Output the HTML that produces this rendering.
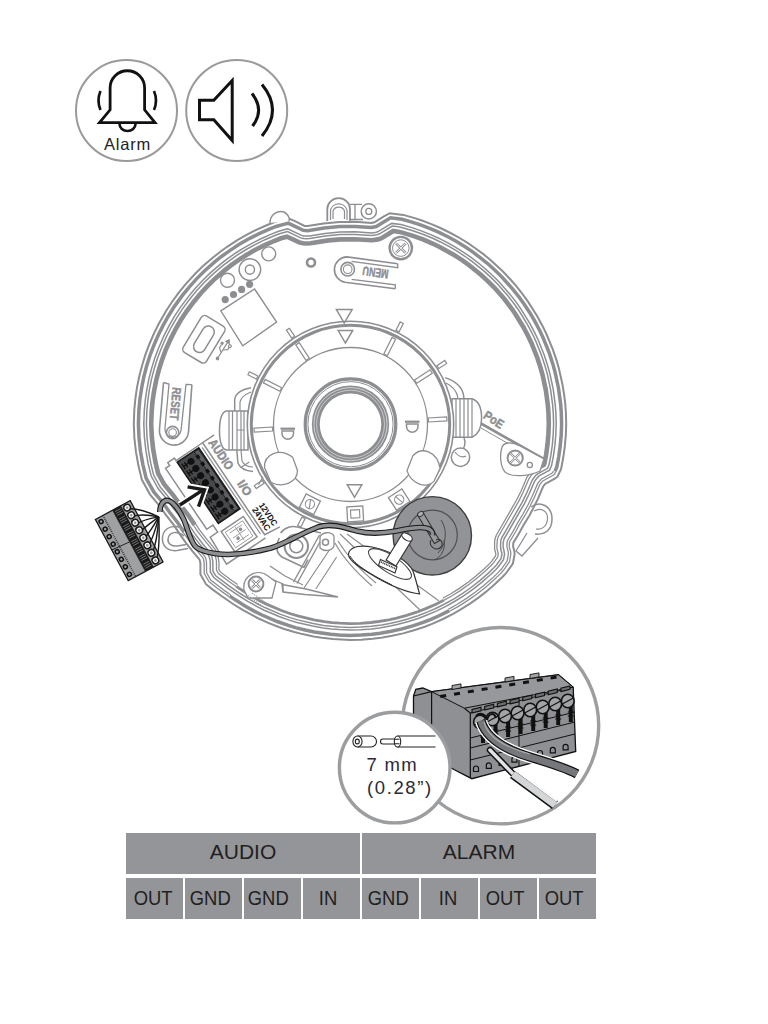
<!DOCTYPE html>
<html><head><meta charset="utf-8">
<style>
html,body{margin:0;padding:0;background:#fff;}
body{width:768px;height:1024px;overflow:hidden;position:relative;font-family:"Liberation Sans",sans-serif;}
svg{position:absolute;left:0;top:0;}
.c{position:absolute;background:#939598;color:#231f20;text-align:center;font-family:"Liberation Sans",sans-serif;}
.h{top:833px;height:41px;line-height:38px;font-size:21px;}
.r{top:878px;height:41px;line-height:40px;font-size:20px;}
.r span{display:inline-block;transform:scaleX(0.92);}
</style></head><body>
<svg width="768" height="1024" viewBox="0 0 768 1024">
<g id="icons">
  <circle cx="126.5" cy="110.5" r="50.5" fill="none" stroke="#9a9a9a" stroke-width="2"/>
  <circle cx="236.7" cy="110.5" r="50.5" fill="none" stroke="#9a9a9a" stroke-width="2"/>
  <path d="M110.1,109.8 V88 A17.25,17.25 0 0 1 144.6,88 V109.8 L155,122.7 H99.5 Z" fill="none" stroke="#111" stroke-width="2.8" stroke-linejoin="miter"/>
  <path d="M119.5,124 A8,7 0 0 0 135.5,124" fill="none" stroke="#111" stroke-width="2.6"/>
  <path d="M100.5,91 Q96.5,100.5 100.5,110" fill="none" stroke="#111" stroke-width="2.6"/>
  <path d="M154,91 Q158,100.5 154,110" fill="none" stroke="#111" stroke-width="2.6"/>
  <text x="127.5" y="150" font-size="16.5" letter-spacing="0.8" text-anchor="middle" fill="#222" font-family="Liberation Sans">Alarm</text>
  <path d="M199.5,100.2 H213.8 L232.2,80.5 V140.5 L213.8,119.7 H199.5 Z" fill="none" stroke="#111" stroke-width="3" stroke-linejoin="miter"/>
  <path d="M252,93.5 Q265,110 252.5,126" fill="none" stroke="#111" stroke-width="3"/>
  <path d="M262,84.5 Q283,110 262,136" fill="none" stroke="#111" stroke-width="3"/>
</g>
<path d="M133.8,424 L134.4,438.1 L136,452.2 L138.5,466.1 L141.9,479.8 L150.1,494.6 L159.3,505.6 L165.7,514.7 L174.1,525.4 L179.9,534.4 L186.1,543.1 L192.6,551.4 L199.6,559.6 L200.4,563.2 L200.4,574.3 L206,584.2 L212.4,589.4 L221.5,596 L233.1,604 L242.6,609.9 L257.5,618 L267.7,622.7 L275.5,625.8 L283.5,628.7 L294.3,632 L302.5,634.1 L313.5,636.5 L321.9,637.8 L333.1,639.1 L350,640 L361.3,639.7 L372.6,638.8 L381,637.8 L392.1,635.8 L403.2,633.4 L414,630.3 L424.8,626.7 L432.7,623.6 L443,619 L453.1,613.8 L460.4,609.6 L470,603.6 L479.2,597.1 L485.9,591.9 L494.5,584.5 L502.7,576.7 L506.5,572.6 L512.9,563.5 L514.6,554.5 L514.4,551.1 L513.1,546.6 L513.3,542.9 L518.8,533.7 L523.9,524.4 L529.4,515.4 L533.2,508.4 L537.9,498.9 L543.1,486.5 L545.1,484 L555.2,478.4 L557.6,476.4 L561.1,468.9 L563.2,457.8 L564.8,446.6 L565.8,435.3 L566.2,424 L565.9,412.7 L565.3,404.2 L564.3,395.8 L562.5,384.6 L558.8,368.1 L556.4,359.9 L552.7,349.2 L546.2,333.5 L542.5,325.9 L537.1,316 L528,301.6 L521.4,292.5 L516.1,285.9 L510.5,279.5 L502.7,271.3 L490.2,259.8 L483.7,254.4 L474.6,247.7 L467.6,242.9 L458,237 L450.5,233 L440.4,228 L432.6,224.6 L422,220.5 L414,217.9 L403.2,214.9 L389.7,213.2 L383.5,216.6 L374.5,222.3 L371.3,222.9 L355.3,221.8 L339.4,222 L323.6,223.5 L307.7,226.1 L304.6,225.9 L295,221.2 L288.8,218.5 L280.8,220.3 L275.3,221.8 L264.9,226 L254.6,230.7 L244.7,235.9 L237.3,240.2 L227.9,246.3 L221,251.2 L212.1,258.2 L203.6,265.6 L195.4,273.5 L185.9,283.8 L178.8,292.6 L172.1,301.7 L165.9,311.2 L158.9,323.5 L153.9,333.6 L149.4,344 L145.4,354.6 L142.1,365.4 L139.3,376.3 L137,387.4 L135.4,398.6 L134.3,409.9Z" fill="none" stroke="#8d8e91" stroke-width="2.0"/>
<path d="M555,471.3 L556.7,467.4 L558.7,457 L560.2,446.1 L561.2,435 L561.6,424 L561.3,412.9 L560.7,404.7 L558.5,388.2 L555,372 L552.8,363.9 L549.4,353.4 L543.2,338 L539.7,330.5 L534.5,320.7 L530.3,313.5 L524.2,304.3 L519.4,297.5 L512.5,288.8 L501.4,276.5 L495.5,270.7 L487.3,263.3 L480.8,258.1 L472,251.4 L465.1,246.8 L455.7,241 L448.4,237 L438.5,232.2 L430.9,228.8 L420.5,224.9 L412.7,222.3 L402.2,219.3 L390.5,217.8 L376.3,226.5 L371.4,227.5 L355.2,226.4 L339.7,226.6 L324.2,228 L307.6,230.7 L303.2,230.3 L288.3,223.2 L284.6,224.1 L276.9,226.2 L269.3,229.1 L259.2,233.6 L249.3,238.6 L239.7,244.1 L230.5,250.1 L221.5,256.5 L215,261.7 L204.7,270.8 L196.8,278.6 L189.4,286.8 L182.4,295.4 L174.3,306.6 L168.4,316 L163,325.6 L158.1,335.5 L153.7,345.7 L149.8,356 L146.5,366.6 L143.7,377.3 L141.6,388.2 L139.9,399.1 L138.9,410.2 L138.4,424 L139,437.7 L140.5,451.5 L143,465.1 L146.1,478 L153.8,491.9 L162.9,502.7 L169.4,512 L177.8,522.7 L183.7,531.8 L183.8,531.9 M229.6,596 L235.7,600.1 L245,606 L254.6,611.4 L262,615 L277.2,621.5 L287.6,625.2 L295.5,627.6 L306.2,630.3 L314.3,631.9 L330.7,634.3 L339,635 L350,635.4 L361.1,635.1 L372.1,634.2 L380.3,633.2 L391.2,631.3 L402,628.9 L412.7,625.9 L423.2,622.3 L430.9,619.3 L438.5,616 L448.4,611.1 L449.2,610.6" fill="none" stroke="#8d8e91" stroke-width="3.5"/>
<path d="M183.1,532.4 L189.1,540.7 L195.6,549 L202.8,557.6 L203.4,559 L204.2,563 L204.2,573.4 L208.9,581.6 L216.9,588 L223.7,592.9 L229.1,596.6 M449.6,611.3 L458.5,606.4 L467.9,600.4 L477,594 L485.7,587.2 L494,579.8 L500,574.1 L503.5,570.3 L509.4,562 L510.8,554.3 L510.7,551.8 L509.3,547.1 L509.4,542.9 L509.8,541.4 L515.6,531.8 L520.6,522.5 L524.8,515.7 L529.8,506.7 L534.4,497.3 L539.8,484.6 L542.8,480.9 L553.2,475.2 L554.7,474 L555.7,471.5" fill="none" stroke="#8d8e91" stroke-width="1.3"/>
<path d="M185.2,531 L189.5,537.2 L197.4,547.5 L204.8,556.3 L205.7,558.3 L206.5,562.1 L206.6,572.7 L210.7,580.1 L225,590.9 L230.5,594.7 M448.5,609.2 L450.1,608.4 L457.3,604.3 L466.5,598.4 L475.5,592.1 L484.1,585.3 L492.4,578.1 L498.3,572.4 L501.6,568.8 L507.1,561.1 L508.4,554.2 L508.3,552.2 L506.9,546.7 L507,542.6 L507.6,540.4 L513.5,530.6 L518.5,521.4 L522.7,514.5 L527.7,505.5 L532.2,496.3 L537.7,483.4 L541.4,479 L551.8,473.2 L552.7,472.5 L553.4,471" fill="none" stroke="#8d8e91" stroke-width="1.3"/>
<path d="M143.8,423.9 L144.4,437.3 L145.9,450.7 L148.2,464 L151.2,476 L158.3,488.8 L167.4,499.7 L173.7,508.8 L182.3,519.6 L192.6,535 L200.4,545.1 L208,554.2 L209.4,557.4 L210.3,561.6 L210.3,571.7 L213.7,577.6 L227.2,587.8 L238.7,595.6 L247.7,601.3 L257.1,606.6 L264.3,610.2 L279.1,616.5 L289.2,620.1 L297,622.4 L312.7,626.1 L323.3,627.9 L331.3,628.9 L339.3,629.6 L350,630 L360.8,629.7 L371.5,628.9 L379.5,627.9 L390.2,626 L398.1,624.3 L408.5,621.5 L418.8,618.2 L428.8,614.3 L436.2,611.1 L445.9,606.3 L455.3,601 L464.4,595.3 L473.2,589.1 L481.7,582.4 L489.8,575.3 L495.7,569.7 L498.6,566.5 L503.5,559.6 L504.6,554 L503.1,546.7 L503.2,542.3 L504.1,538.9 L524.3,503.8 L528.8,494.8 L534.4,481.6 L537.4,477.6 L539.1,475.9 L549.6,470.1 L551.5,465.7 L553.4,456.1 L554.9,445.4 L555.8,434.7 L556.2,424 L555.9,413.2 L555.3,405.2 L553.2,389.1 L549.8,373.3 L547.6,365.5 L544.3,355.2 L538.3,340.2 L534.8,332.9 L529.8,323.3 L521.3,309.6 L516.7,302.9 L510.1,294.4 L499.4,282.2 L493.7,276.5 L485.8,269.2 L479.6,264 L471.1,257.4 L464.4,252.8 L455.3,247.1 L448.3,243.1 L438.7,238.2 L431.3,234.9 L421.3,230.9 L411.1,227.4 L401,224.6 L391.7,223.4 L378.5,231.4 L376.3,232.2 L371.6,232.9 L355,231.8 L339.9,232 L324.9,233.4 L309.5,236 L307,236.1 L303.7,235.9 L301.5,235.4 L287.7,228.9 L285.9,229.3 L278.6,231.3 L271.3,234.1 L261.5,238.5 L251.9,243.3 L242.6,248.7 L235.7,253 L226.9,259.2 L220.5,264.2 L210.3,272.9 L202.6,280.4 L195.3,288.3 L188.4,296.6 L180.3,307.4 L174.4,316.4 L169,325.8 L164.1,335.4 L158.7,347.7 L154.9,357.8 L151.7,368.1 L149,378.5 L146.9,389.1 L145.3,399.8 L144.3,410.5Z" fill="none" stroke="#8d8e91" stroke-width="1.5"/>
<path d="M146.4,423.9 L147,437.1 L148.5,450.4 L150.8,463.4 L153.6,475.1 L160.4,487.3 L169.5,498.1 L175.8,507.2 L184.4,518.1 L194.7,533.4 L202.4,543.5 L210.2,552.8 L211.9,556.7 L212.8,561.2 L212.9,571 L215.7,575.8 L228.7,585.7 L240.1,593.5 L249.1,599.1 L258.3,604.3 L265.4,607.8 L280,614.1 L290,617.6 L297.7,619.9 L313.2,623.6 L323.6,625.4 L331.6,626.3 L339.5,627 L350.1,627.4 L360.6,627.1 L371.2,626.3 L381.8,624.9 L389.7,623.5 L397.5,621.8 L407.8,619 L417.9,615.7 L427.8,611.9 L435.1,608.7 L444.7,604 L454,598.8 L463,593.1 L471.7,587 L480.1,580.4 L488.1,573.4 L493.8,567.8 L496.5,564.9 L501.1,558.5 L502,553.8 L500.9,549.8 L500.5,546 L500.8,540.6 L501.7,537.9 L522,502.6 L526.4,493.7 L532.1,480.3 L535.4,475.8 L537.6,473.9 L547.6,468.3 L549,464.9 L550.8,455.7 L552.3,445.2 L553.2,434.5 L553.6,424 L553.3,413.4 L552.7,405.4 L550.6,389.6 L547.3,373.9 L545.1,366.2 L541.8,356.1 L535.9,341.3 L532.5,334 L527.5,324.6 L519.2,311 L514.6,304.5 L508.1,296 L497.5,284 L491.9,278.4 L484.1,271.1 L471.7,261.1 L465.2,256.5 L456.2,250.7 L449.4,246.7 L439.9,241.7 L432.7,238.3 L422.9,234.3 L412.8,230.7 L402.6,227.7 L398.5,226.8 L392.2,226.1 L379.6,233.8 L376.9,234.7 L371.7,235.5 L355,234.4 L340.1,234.6 L325.2,236 L309.9,238.6 L306.8,238.7 L303.4,238.5 L300.7,237.9 L287.5,231.6 L279.5,233.8 L274.8,235.5 L265,239.7 L255.5,244.4 L246.2,249.5 L237.2,255.2 L228.5,261.3 L222.2,266.2 L212.1,274.9 L204.5,282.3 L197.2,290 L190.4,298.2 L182.5,308.9 L176.7,317.8 L171.3,327 L166.5,336.5 L161.1,348.7 L157.4,358.6 L154.2,368.8 L151.5,379.1 L149.4,389.6 L147.9,400.1 L146.9,410.7Z" fill="none" stroke="#8d8e91" stroke-width="1.5"/>
<path d="M538.8,467.6 L543.8,464.9 L544.4,463.5 L546.1,454.9 L547.5,444.6 L548.4,434.2 L548.8,424 L548.5,413.6 L547.9,405.8 L545.9,390.4 L542.6,375.1 L540.5,367.6 L537.3,357.7 L531.5,343.2 L528.2,336.2 L523.3,327 L515.2,313.7 L510.7,307.3 L504.4,299 L494.1,287.3 L488.6,281.8 L480.9,274.8 L468.8,265 L462.5,260.4 L453.7,254.8 L440.1,247.2 L433.1,243.8 L423.6,239.7 L413.8,236.1 L403.9,233.1 L399.5,231.9 L393.3,231 L381.6,238.2 L378,239.4 L371.9,240.3 L354.8,239.2 L340.3,239.4 L328.3,240.4 L310.6,243.3 L306.5,243.5 L302.9,243.2 L299.2,242.4 L287,236.7 L281,238.3 L274.1,241 L264.7,245.2 L255.4,249.8 L246.4,255 L239.8,259.2 L231.3,265.2 L225.2,269.9 L215.3,278.4 L207.9,285.6 L200.8,293.2 L194.2,301.2 L186.4,311.6 L180.7,320.3 L175.5,329.3 L170.8,338.6 L165.5,350.4 L161.9,360.2 L158.8,370.1 L156.2,380.2 L154.2,390.4 L152.6,400.7 L151.7,411 L151.2,423.9 L151.8,436.8 L153.2,449.7 L155.5,462.4 L158.1,473.4 L164.3,484.5 L173.3,495.3 L179.7,504.4 L188.3,515.3 L194.7,524.9" fill="none" stroke="#8d8e91" stroke-width="4.6"/>
<path d="M236.3,586.3 L242.2,590.3 L251,595.8 L260.1,600.9 L267,604.4 L281.4,610.5 L291.2,614 L298.7,616.2 L313.9,619.8 L324.2,621.6 L331.9,622.6 L339.7,623.2 L350.1,623.6 L360.4,623.3 L370.9,622.5 L378.6,621.5 L388.9,619.8 L396.6,618.1 L406.7,615.4 L416.6,612.2 L426.4,608.4 L435.9,604.2 L443.7,600.2" fill="none" stroke="#8d8e91" stroke-width="2.8"/>
<path d="M193.7,525.5 L197.5,531.3 L205.2,541.2 L213.2,550.9 L214.9,554.1 L216.4,560.6 L216.5,570.1 L218.4,573.5 L230.7,582.7 L236.2,586.5 M443.8,600.4 L452.1,595.7 L461,590.1 L469.5,584.1 L477.8,577.6 L485.6,570.7 L491.3,565.3 L493.7,562.6 L497.7,557.1 L498.3,553.8 L497,548.8 L496.9,545.8 L497.3,539.9 L498.4,536.4 L518.9,500.9 L523.1,492.2 L529,478.5 L532.2,474.2 L534,472.1 L536.9,470 L540.6,468" fill="none" stroke="#8d8e91" stroke-width="1.3"/>
<path d="M195.7,524.2 L199.5,529.9 L207.1,539.7 L215.3,549.6 L217.1,553.2 L218,556.2 L219,562.5 L218.9,569.5 L220.3,571.9 L232.1,580.7 L237.6,584.5 M442.7,598.3 L450.9,593.7 L459.7,588.1 L468.1,582.2 L476.2,575.8 L484,569 L489.6,563.6 L491.8,561.1 L495.4,556.1 L495.9,554 L494.6,549.1 L494.6,542.6 L494.9,539.5 L496.2,535.5 L516.7,499.8 L521,491.2 L526.9,477.3 L530.3,472.7 L532.4,470.4 L535.7,467.9 L537.1,467.2" fill="none" stroke="#8d8e91" stroke-width="1.3"/>
<g fill="none" stroke="#8d8e91">
<path d="M251,387.7 C243,389 235,393 234.7,400 L234.7,411 M236.8,450 L237.9,463 C240,468 246,471 253,471.5" stroke-width="1.5"/>
<path d="M251,392 C246,394 241,397 240,402 L240,411 M241,450 L242,461 C244,465 248,467 253,467" stroke-width="1.2"/>
<path d="M248,411 H226 C221,413 219.5,420 219.5,430.5 C219.5,441 221,448 226,450 H248 Z" stroke-width="1.5" fill="#fff"/>
<path d="M229,411 V450 M232.5,411 V450 M237,411 V450 M241,411 V450 M244,411 V450 M237,430 H244" stroke-width="1.2"/>
<path d="M445.2,377.6 C455,381 462,386 463.5,395 L464,399 M464,437.3 L465,442 C465,448 462,452 458,452" stroke-width="1.5"/>
<path d="M446,383 C452,386 456,390 457.5,396 L458,399" stroke-width="1.2"/>
<path d="M452,398.7 H472 C479,401 481.6,408 481.6,418 C481.6,428 479,434 472,437.3 H452 Z" stroke-width="1.5" fill="#fff"/>
<path d="M456,398.7 V437.3 M460,398.7 V437.3 M464,398.7 V437.3 M468,398.7 V437.3 M472,399 V437" stroke-width="1.2"/>
<circle cx="460.5" cy="457.3" r="9.2" stroke-width="1.5" fill="#fff"/><path d="M455,452 C458,456 462,458 466,456" stroke-width="1.2"/>
<circle cx="350.5" cy="424.5" r="103.2" stroke-width="1.6" fill="#fff"/>
<circle cx="350.5" cy="424.5" r="99.2" stroke-width="3"/>
<circle cx="350.5" cy="424.5" r="77" stroke-width="1.3"/>
<path d="M281.7,387.7 L265.2,379.4 L263.4,382.9 L279.9,391.2Z" stroke-width="1.2" fill="#fff"/>
<path d="M309.3,358.2 L299.2,342.7 L295.8,344.9 L306,360.4Z" stroke-width="1.2" fill="#fff"/>
<path d="M387.3,355.7 L395.6,339.2 L392.1,337.4 L383.8,353.9Z" stroke-width="1.2" fill="#fff"/>
<path d="M416.8,383.3 L432.3,373.2 L430.1,369.8 L414.6,380Z" stroke-width="1.2" fill="#fff"/>
<path d="M428.5,422 L447,420.9 L446.7,416.9 L428.3,418Z" stroke-width="1.2" fill="#fff"/>
<path d="M272.5,427 L254,428.1 L254.3,432.1 L272.7,431Z" stroke-width="1.2" fill="#fff"/>
<path d="M257.9,376 L249.4,371.7 L247.9,374.8 L256.4,379.1Z" stroke-width="1.2" fill="#fff"/>
<path d="M294.6,336.2 L289.4,328.3 L286.4,330.2 L291.7,338.1Z" stroke-width="1.2" fill="#fff"/>
<path d="M399,331.9 L403.3,323.4 L400.2,321.9 L395.9,330.4Z" stroke-width="1.2" fill="#fff"/>
<path d="M438.8,368.6 L446.7,363.4 L444.8,360.4 L436.9,365.7Z" stroke-width="1.2" fill="#fff"/>
<path d="M262.2,480.4 L254.3,485.6 L256.2,488.6 L264.1,483.3Z" stroke-width="1.2" fill="#fff"/>
<path d="M302,517.1 L297.7,525.6 L300.8,527.1 L305.1,518.6Z" stroke-width="1.2" fill="#fff"/>
<path d="M336.4,309.6 L352.1,309.6 L344.2,323.1 Z" stroke-width="1.5"/>
<path d="M338.2,330.5 L352.7,330.5 L345.4,343 Z" stroke-width="1.5"/>
<path d="M347.3,484.8 L361.8,484.8 L354.5,497.3 Z" stroke-width="1.5"/>
<path d="M280.5,428.7 H295" stroke-width="2.2"/><path d="M282,431 V433.5 A5.75,5.75 0 0 0 293.5,433.5 V431 Z" stroke-width="1.5"/>
<path d="M405,421.7 H419.5" stroke-width="2.2"/><path d="M406.5,424 V426.5 A5.75,5.75 0 0 0 418,426.5 V424 Z" stroke-width="1.5"/>
<path d="M266,462 C270,449 287,448 296,462 L296,476 C292,487 276,488 267,478 Z" stroke-width="1.3" fill="#fff" transform="rotate(-20 281 469)"/>
<path d="M411,462 C415,449 432,448 441,462 L441,476 C437,487 421,488 412,478 Z" stroke-width="1.3" fill="#fff" transform="rotate(25 426 463)"/>
<g transform="translate(399.2 499.6) rotate(-33)"><rect x="-8" y="-7.5" width="16" height="15" stroke-width="1.3" fill="#fff"/><circle cx="0" cy="0" r="4.6" stroke-width="1.1"/><path d="M-1.5,-4.5 L1.5,4.5" stroke-width="1.1"/></g>
<g transform="translate(355.2 513.9) rotate(-3)"><rect x="-8" y="-7.5" width="16" height="15" stroke-width="1.3" fill="#fff"/><rect x="-4.5" y="-4" width="9" height="8" stroke-width="1.1"/></g>
<g transform="translate(309.9 504.2) rotate(27)"><rect x="-8" y="-7.5" width="16" height="15" stroke-width="1.3" fill="#fff"/><circle cx="0" cy="0" r="4.6" stroke-width="1.1"/><path d="M-1.5,-4.5 L1.5,4.5" stroke-width="1.1"/></g>
<circle cx="350.5" cy="424.2" r="45.3" stroke-width="3.2"/>
<circle cx="350.5" cy="424.2" r="42.6" stroke-width="1"/>
<circle cx="350.5" cy="424.2" r="34.7" stroke-width="7.9"/>
<circle cx="350.5" cy="424.2" r="36.6" stroke-width="0.6" stroke="#fff"/>
<circle cx="350.5" cy="424.2" r="34" stroke-width="0.5" stroke="#fff"/>
</g>
<g fill="none" stroke="#8d8e91">
<path d="M327.3,221 V209 A11,10.5 0 0 1 350,209 V221" stroke-width="1.8" fill="#fff"/>
<path d="M330.5,220 V210 A8.5,8 0 0 1 347,210 V220 M333,219 V211 A6,5.5 0 0 1 344.5,211 V219" stroke-width="1.2"/>
<path d="M350,204.4 H362 M350,219.5 H363 M355,204.4 V219.5" stroke-width="1.3"/>
<circle cx="368.8" cy="211.4" r="7.6" stroke-width="1.5" fill="#fff"/><circle cx="368.8" cy="211.4" r="3" stroke-width="1.3"/>
<path d="M270,223 C270,214 278,210 284,212 C288,214 290,218 289,221" stroke-width="1.4" fill="#fff"/>
<circle cx="400.8" cy="248.1" r="11.2" stroke-width="2.4" fill="#fff"/><circle cx="400.8" cy="248.1" r="8.3" stroke-width="1"/>
<path d="M396,243.3 L405.6,252.9 M405.6,243.3 L396,252.9" stroke-width="2.6"/><path d="M396,243.3 L405.6,252.9 M405.6,243.3 L396,252.9" stroke-width="1" stroke="#fff"/>
<circle cx="311" cy="262.5" r="4" stroke-width="2.6"/>
<path d="M397.7,263.7 L346.9,256.9 A12.8,12.8 0 0 0 345,282.3 L395.3,288.8" stroke-width="1.6"/>
<path d="M397.7,263.7 V267.7 L351.6,261.4 M395.3,288.8 V284.8 L351.6,279.4" stroke-width="1.4"/>
<circle cx="347.7" cy="269.2" r="6.8" stroke-width="1.6"/><circle cx="347.7" cy="269.2" r="4.3" stroke-width="1.1"/>
<text x="0" y="0" font-size="12.5" font-weight="bold" textLength="26" lengthAdjust="spacingAndGlyphs" fill="#8d8e91" stroke="#8d8e91" stroke-width="0.45" transform="translate(389,270) rotate(188)">MENU</text>
<circle cx="227.5" cy="280.3" r="7" stroke-width="1.4"/>
<circle cx="249.9" cy="269.6" r="10.8" stroke-width="1.4"/><circle cx="249.9" cy="269.6" r="4.6" stroke-width="1.4"/>
<circle cx="268.7" cy="253.9" r="7" stroke-width="1.4"/>
<circle cx="225.2" cy="299.6" r="3.6" fill="#8d8e91" stroke="none"/>
<circle cx="233.5" cy="294.5" r="3.6" fill="#8d8e91" stroke="none"/>
<circle cx="241.6" cy="289.4" r="3.6" fill="#8d8e91" stroke="none"/>
<circle cx="249.6" cy="284.3" r="3.6" fill="#8d8e91" stroke="none"/>
<path d="M220.8,310.8 L254.6,289 L276.6,322 L242.8,345.8 Z" stroke-width="1.4"/>
<g transform="translate(203.9,339.3) rotate(31.2)"><rect x="-13.6" y="-21.3" width="27.2" height="42.6" rx="4" stroke-width="1.5"/><rect x="-6" y="-14.5" width="12" height="29" rx="6" stroke-width="1.5"/></g>
<g transform="translate(217.5,358.5) rotate(-58)" stroke-width="1.2"><circle cx="0" cy="0" r="1.8" fill="#8d8e91" stroke="none"/><path d="M1.5,0 H19"/><path d="M19,-2 L22,0 L19,2 Z" fill="#8d8e91"/><path d="M7,0 L10,-4 H14"/><rect x="14" y="-5.5" width="2.8" height="2.8" fill="#8d8e91" stroke="none"/><path d="M10,0 L13,4 H16"/><circle cx="17" cy="4" r="1.4"/></g>
<path d="M163.5,382.5 L159.5,429 A14.5,14.5 0 0 0 188.5,432 L191.9,384.7" stroke-width="1.6"/>
<path d="M163.5,382.5 L169,384 L165,428 A8,8 0 0 0 181,430.5 L186,384.5 L191.9,384.7" stroke-width="1.3"/>
<circle cx="172.6" cy="432.6" r="6.2" stroke-width="1.6"/><circle cx="172.6" cy="432.6" r="3.8" stroke-width="1.1"/>
<text x="0" y="0" font-size="12.5" font-weight="bold" textLength="33" lengthAdjust="spacingAndGlyphs" fill="#8d8e91" stroke="#8d8e91" stroke-width="0.45" transform="translate(172.6,387) rotate(95)">RESET</text>
<path d="M481,423.5 L545.5,460" stroke-width="2.6"/><path d="M481,428 L543,463.5" stroke-width="1"/>
<path d="M501.5,449 C503,441 512,442 520,446 L544,459 L540,471 C530,476 512,478 505,472 C500,466 500,455 501.5,449 Z" stroke-width="1.3" fill="#fff"/>
<circle cx="515.2" cy="458" r="7.6" stroke-width="2" fill="#fff"/><path d="M510.7,453.5 L519.7,462.5 M519.7,453.5 L510.7,462.5" stroke-width="2.4"/><path d="M510.7,453.5 L519.7,462.5 M519.7,453.5 L510.7,462.5" stroke-width="0.9" stroke="#fff"/>
<circle cx="529.8" cy="465" r="2.6" stroke-width="1.3"/>
<text x="0" y="0" font-size="12.5" font-weight="bold" textLength="21.5" lengthAdjust="spacingAndGlyphs" fill="#8d8e91" stroke="#8d8e91" stroke-width="0.45" transform="translate(482.5,417.5) rotate(33)">PoE</text>
<path d="M531,507 C540,500 552,506 552,519 C552,530 545,535 535,534" stroke-width="1.5"/><path d="M534,511 C541,507 548,511 547.5,519 C547,527 541,530 536,529" stroke-width="1.2"/>
<path d="M527,533 L516,551 L522,556 L538,538" stroke-width="1.3"/>
<path d="M186,531 C177,523 164,526 162.5,537 C161.5,546 168,551.5 177,550.5 L188,548.5 M184,536 C177,530 169,532 168,539 C167.5,544 172,546.5 177.5,546 L186,544.5" stroke-width="1.5"/>
</g>
<g transform="translate(177.2,462.3) rotate(56)" fill="none" stroke="#8d8e91">
<path d="M-2,-46 V-32 H109 L111,-49 M-2,-32 V0 H-5 V8 H-1.5 V13 H72 V5.5 H80.5 V14.5 L112,16 V-31" stroke-width="1.5"/>
<path d="M1.5,-29 H106" stroke-width="1.2"/>
<path d="M40,-60 L40,-50 M60,-63 L64,-55" stroke-width="1.2"/>
<rect x="0" y="-26" width="73.6" height="26" fill="#48494b" stroke="#1a1a1a" stroke-width="1.6"/>
<rect x="1" y="-25" width="71.6" height="5" fill="#5e5f61" stroke="#1a1a1a" stroke-width="0.8"/>
<circle cx="7" cy="-12" r="3.5" fill="#111" stroke="none"/>
<path d="M7,-10 V-3 M4,-6 H10 M3.5,-3 H10.5" stroke="#111" stroke-width="1.4"/>
<rect x="5" y="-22" width="4" height="3.5" fill="#111" stroke="none"/>
<circle cx="15.6" cy="-12" r="3.5" fill="#111" stroke="none"/>
<path d="M15.6,-10 V-3 M12.6,-6 H18.6 M12.1,-3 H19.1" stroke="#111" stroke-width="1.4"/>
<rect x="13.6" y="-22" width="4" height="3.5" fill="#111" stroke="none"/>
<circle cx="24.2" cy="-12" r="3.5" fill="#111" stroke="none"/>
<path d="M24.2,-10 V-3 M21.2,-6 H27.2 M20.7,-3 H27.7" stroke="#111" stroke-width="1.4"/>
<rect x="22.2" y="-22" width="4" height="3.5" fill="#111" stroke="none"/>
<circle cx="32.8" cy="-12" r="3.5" fill="#111" stroke="none"/>
<path d="M32.8,-10 V-3 M29.8,-6 H35.8 M29.3,-3 H36.3" stroke="#111" stroke-width="1.4"/>
<rect x="30.8" y="-22" width="4" height="3.5" fill="#111" stroke="none"/>
<circle cx="41.4" cy="-12" r="3.5" fill="#111" stroke="none"/>
<path d="M41.4,-10 V-3 M38.4,-6 H44.4 M37.9,-3 H44.9" stroke="#111" stroke-width="1.4"/>
<rect x="39.4" y="-22" width="4" height="3.5" fill="#111" stroke="none"/>
<circle cx="50" cy="-12" r="3.5" fill="#111" stroke="none"/>
<path d="M50,-10 V-3 M47,-6 H53 M46.5,-3 H53.5" stroke="#111" stroke-width="1.4"/>
<rect x="48" y="-22" width="4" height="3.5" fill="#111" stroke="none"/>
<circle cx="58.6" cy="-12" r="3.5" fill="#111" stroke="none"/>
<path d="M58.6,-10 V-3 M55.6,-6 H61.6 M55.1,-3 H62.1" stroke="#111" stroke-width="1.4"/>
<rect x="56.6" y="-22" width="4" height="3.5" fill="#111" stroke="none"/>
<circle cx="67.2" cy="-12" r="3.5" fill="#111" stroke="none"/>
<path d="M67.2,-10 V-3 M64.2,-6 H70.2 M63.7,-3 H70.7" stroke="#111" stroke-width="1.4"/>
<rect x="65.2" y="-22" width="4" height="3.5" fill="#111" stroke="none"/>
<text x="1" y="-36.5" font-size="12.5" font-weight="bold" textLength="34" lengthAdjust="spacingAndGlyphs" fill="#8d8e91" stroke="#8d8e91" stroke-width="0.45">AUDIO</text>
<text x="51" y="-37.5" font-size="12" font-weight="bold" fill="#8d8e91" stroke="#8d8e91" stroke-width="0.45">I/O</text>
<rect x="82" y="-24.5" width="24.5" height="26.8" stroke-width="1.5"/><rect x="85" y="-21.5" width="18.5" height="20.8" stroke-width="0.8"/>
<path d="M88,-19 V-4 M94,-19 V-4 M100,-19 V-4 M86,-12 H102" stroke-width="0.8"/>
<circle cx="91" cy="-15" r="1.8" fill="#8d8e91" stroke="none"/><circle cx="97" cy="-8" r="1.8" fill="#8d8e91" stroke="none"/>
<g font-size="8.6" font-weight="bold" fill="#111" stroke="none"><text x="81" y="-43.5" textLength="26" lengthAdjust="spacingAndGlyphs">12VDC</text><text x="81" y="-35.2" textLength="26" lengthAdjust="spacingAndGlyphs">24VAC</text></g>
</g>
<path d="M179.8,505 L203.5,489.6 M187.6,486.8 L204.5,489.8 L198.5,506.6" fill="none" stroke="#fff" stroke-width="7" stroke-linecap="butt"/>
<path d="M179.8,505 L203.5,489.6 M187.6,486.8 L204.5,489.8 L198.5,506.6" fill="none" stroke="#1a1a1a" stroke-width="3.4" stroke-linejoin="miter" stroke-linecap="butt"/>
<g fill="none" stroke="#8d8e91">
<path d="M332.7,545 L304,588 M336.6,557 L315.8,589" stroke-width="1.2"/>
<path d="M340,534 L420,610 M347,534 L438.7,600.8" stroke-width="1.2"/>
<path d="M335,543 C342,556 356,572 372,586 M338,541 C346,554 360,570 376,583" stroke-width="1.2"/>
<path d="M319.5,535 L293.5,582 M323,536.5 L297,583.5" stroke-width="1.4"/>
<path d="M282,584.5 L306,589 L338,597 L305,594.5 L283,592 Z" stroke-width="1.4" fill="#fff"/>
<path d="M262,575 L283,584 L283,592 M270,566 L285,576 L303,585" stroke-width="1.3"/>
<path d="M280.6,533 C285,527 292,525.5 297.5,527 L321,533 M279.3,538 C275.5,546 276.5,553 282,557 L304,567.5 L308,559.5" stroke-width="1.6"/>
<circle cx="296.3" cy="546.3" r="11.7" stroke-width="2" fill="#fff"/><circle cx="296.3" cy="546.3" r="6.5" stroke-width="1.5"/>
<path d="M320,537 C322,532 331,531 334,536 L334,546 C332,551 324,552 320,548 Z" stroke-width="1.3" fill="#fff"/>
<circle cx="325.5" cy="542.3" r="3" stroke-width="1.5"/>
<path d="M244,590 C242,575 258,568 268,576 L276,582 L272,598 L248,598 Z" stroke-width="1.3" fill="#fff"/>
<circle cx="256" cy="584" r="7.4" stroke-width="2" fill="#fff"/><path d="M252,580 L260,588 M260,580 L252,588" stroke-width="2.6"/><path d="M252,580 L260,588 M260,580 L252,588" stroke-width="0.9" stroke="#fff"/>
<path d="M246,594 L262,606 M252,593 L268,604" stroke-width="1" stroke-dasharray="1.5 1"/>
</g>
<circle cx="432.3" cy="535.8" r="39.2" fill="#929397" stroke="#3f3f3f" stroke-width="1.4"/>
<circle cx="432.5" cy="535" r="24.8" fill="none" stroke="#505153" stroke-width="1.2"/>
<path d="M441,520 C448,530 446,545 438,553 M444,540 C446,550 440,558 434,560" fill="none" stroke="#4a4a4a" stroke-width="1"/>
<path d="M423.1,512.5 L439.6,540.5 L434.4,543.5 L417.9,515.5 Z" fill="#9a9b9d" stroke="#333" stroke-width="1.1"/>
<ellipse cx="420.5" cy="514" rx="3.2" ry="2.2" transform="rotate(-30.5 420.5 514)" fill="#b0b1b3" stroke="#333" stroke-width="1"/>
<path d="M431,540 C428,546 436,552 441,547 C444,543 440,537 436,540" fill="none" stroke="#333" stroke-width="1.1"/>
<path d="M349,552 C352,546 362,545 372,547 C392,551 408,561 413,571 C416,580 418,588 419.5,594 C405,592 385,583 369,573 C356,565 346,558 349,552 Z" fill="#fff" stroke="#333" stroke-width="1.2"/>
<path d="M350,556 C356,566 372,575 392,585" fill="none" stroke="#333" stroke-width="1"/>
<ellipse cx="390" cy="564" rx="25" ry="8.5" transform="rotate(33 390 564)" fill="none" stroke="#444" stroke-width="1.1"/>
<path d="M380.4,559.5 L397,566.7 L395,573 L378.5,565.5 Z" fill="#fff" stroke="#333" stroke-width="1.1"/>
<path d="M381,562 L396,569" stroke="#333" stroke-width="1.6" stroke-dasharray="1 0.8"/>
<path d="M411.9,540 L395.9,566 L386.1,560 L402.1,534 Z" fill="#fff" stroke="#333" stroke-width="1.2"/>
<ellipse cx="407" cy="537" rx="5.8" ry="3.2" transform="rotate(31.6 407 537)" fill="#fff" stroke="#333" stroke-width="1.2"/>
<path d="M159.8,512 C160,505 163,500.5 167,500.4 C172,500.5 179,509 184,520 C188,530 190,540 195,546 C201,552 212,554 228,554.5 C250,554 262,550 271,548 C284,544 300,534 318,527 C330,523 343,527 357,531 C367,533.5 380,534 396,531 C406,529 418,526 426,528 C431,529 433,532 432.5,535" fill="none" stroke="#1a1a1a" stroke-width="5.6"/>
<path d="M159.8,512 C160,505 163,500.5 167,500.4 C172,500.5 179,509 184,520 C188,530 190,540 195,546 C201,552 212,554 228,554.5 C250,554 262,550 271,548 C284,544 300,534 318,527 C330,523 343,527 357,531 C367,533.5 380,534 396,531 C406,529 418,526 426,528 C431,529 433,532 432.5,535" fill="none" stroke="#8e8f91" stroke-width="3.4"/>
<g transform="translate(95.4,519.4) rotate(61.8)">
<rect x="0" y="-39.5" width="69.5" height="39.5" fill="#9fa0a2" stroke="#1a1a1a" stroke-width="1.3"/>
<rect x="0" y="-29" width="69.5" height="9.5" fill="#1a1a1a" stroke="none"/>
<circle cx="4.6" cy="-4" r="2" fill="none" stroke="#111" stroke-width="1.5"/>
<path d="M2.4,-27.5 V-21 M4.6,-27.5 V-21 M6.8,-27.5 V-21" stroke="#8a8a8a" stroke-width="0.7"/>
<circle cx="13.2" cy="-4" r="2" fill="none" stroke="#111" stroke-width="1.5"/>
<path d="M10.9,-27.5 V-21 M13.2,-27.5 V-21 M15.4,-27.5 V-21" stroke="#8a8a8a" stroke-width="0.7"/>
<circle cx="21.7" cy="-4" r="2" fill="none" stroke="#111" stroke-width="1.5"/>
<path d="M19.5,-27.5 V-21 M21.7,-27.5 V-21 M23.9,-27.5 V-21" stroke="#8a8a8a" stroke-width="0.7"/>
<circle cx="30.2" cy="-4" r="2" fill="none" stroke="#111" stroke-width="1.5"/>
<path d="M28.1,-27.5 V-21 M30.2,-27.5 V-21 M32.5,-27.5 V-21" stroke="#8a8a8a" stroke-width="0.7"/>
<circle cx="38.8" cy="-4" r="2" fill="none" stroke="#111" stroke-width="1.5"/>
<path d="M36.6,-27.5 V-21 M38.8,-27.5 V-21 M41,-27.5 V-21" stroke="#8a8a8a" stroke-width="0.7"/>
<circle cx="47.4" cy="-4" r="2" fill="none" stroke="#111" stroke-width="1.5"/>
<path d="M45.1,-27.5 V-21 M47.4,-27.5 V-21 M49.6,-27.5 V-21" stroke="#8a8a8a" stroke-width="0.7"/>
<circle cx="55.9" cy="-4" r="2" fill="none" stroke="#111" stroke-width="1.5"/>
<path d="M53.7,-27.5 V-21 M55.9,-27.5 V-21 M58.1,-27.5 V-21" stroke="#8a8a8a" stroke-width="0.7"/>
<circle cx="64.5" cy="-4" r="2" fill="none" stroke="#111" stroke-width="1.5"/>
<path d="M62.2,-27.5 V-21 M64.5,-27.5 V-21 M66.7,-27.5 V-21" stroke="#8a8a8a" stroke-width="0.7"/>
<path d="M34.7,0 L36,-19.5" stroke="#222" stroke-width="0.9"/>
<path d="M0,-8.5 H69.5" stroke="#222" stroke-width="1.6" stroke-dasharray="0.8 1.2"/>
<path d="M0,-19.5 H69.5" stroke="#222" stroke-width="0.6"/>
<path d="M6.1,-33.5 Q10.4,-44 27.7,-57" fill="none" stroke="#1a1a1a" stroke-width="1.4"/>
<circle cx="4.6" cy="-33.5" r="3.3" fill="#fff" stroke="#1a1a1a" stroke-width="1.5"/><circle cx="4.6" cy="-33.5" r="1.4" fill="#9a9a9a" stroke="none"/>
<path d="M14.7,-33.5 Q16.8,-44 27.7,-57" fill="none" stroke="#1a1a1a" stroke-width="1.4"/>
<circle cx="13.2" cy="-33.5" r="3.3" fill="#fff" stroke="#1a1a1a" stroke-width="1.5"/><circle cx="13.2" cy="-33.5" r="1.4" fill="#9a9a9a" stroke="none"/>
<path d="M23.2,-33.5 Q23.2,-44 27.7,-57" fill="none" stroke="#1a1a1a" stroke-width="1.4"/>
<circle cx="21.7" cy="-33.5" r="3.3" fill="#fff" stroke="#1a1a1a" stroke-width="1.5"/><circle cx="21.7" cy="-33.5" r="1.4" fill="#9a9a9a" stroke="none"/>
<path d="M31.8,-33.5 Q29.6,-44 27.7,-57" fill="none" stroke="#1a1a1a" stroke-width="1.4"/>
<circle cx="30.2" cy="-33.5" r="3.3" fill="#fff" stroke="#1a1a1a" stroke-width="1.5"/><circle cx="30.2" cy="-33.5" r="1.4" fill="#9a9a9a" stroke="none"/>
<path d="M40.3,-33.5 Q36,-44 27.7,-57" fill="none" stroke="#1a1a1a" stroke-width="1.4"/>
<circle cx="38.8" cy="-33.5" r="3.3" fill="#fff" stroke="#1a1a1a" stroke-width="1.5"/><circle cx="38.8" cy="-33.5" r="1.4" fill="#9a9a9a" stroke="none"/>
<path d="M48.9,-33.5 Q42.4,-44 27.7,-57" fill="none" stroke="#1a1a1a" stroke-width="1.4"/>
<circle cx="47.4" cy="-33.5" r="3.3" fill="#fff" stroke="#1a1a1a" stroke-width="1.5"/><circle cx="47.4" cy="-33.5" r="1.4" fill="#9a9a9a" stroke="none"/>
<path d="M57.4,-33.5 Q48.9,-44 27.7,-57" fill="none" stroke="#1a1a1a" stroke-width="1.4"/>
<circle cx="55.9" cy="-33.5" r="3.3" fill="#fff" stroke="#1a1a1a" stroke-width="1.5"/><circle cx="55.9" cy="-33.5" r="1.4" fill="#9a9a9a" stroke="none"/>
<path d="M66,-33.5 Q55.3,-44 27.7,-57" fill="none" stroke="#1a1a1a" stroke-width="1.4"/>
<circle cx="64.5" cy="-33.5" r="3.3" fill="#fff" stroke="#1a1a1a" stroke-width="1.5"/><circle cx="64.5" cy="-33.5" r="1.4" fill="#9a9a9a" stroke="none"/>
</g>
<circle cx="500.5" cy="725.7" r="98.2" fill="#fff" stroke="#9c9d9f" stroke-width="3.4"/>
<path d="M413.5,696 L415.8,689.3 L422.8,688 L431.6,691.7 L558.4,674.8 L573.2,687.2 L575.7,751.5 L471.8,778.7 L453.9,769.5 L431.6,757 L413.5,748 Z" fill="#8f9093" stroke="#111" stroke-width="1.3"/>
<path d="M431.6,691.7 L558.4,674.8 L573.2,687.2 L464.4,708.2 Z" fill="#97989b" stroke="#111" stroke-width="1"/>
<path d="M431.6,691.7 V757 M413.5,696 L431.6,691.7" fill="none" stroke="#111" stroke-width="1.2"/>
<path d="M464.4,708.2 L470.3,713 V778" fill="none" stroke="#111" stroke-width="1.2"/>
<path d="M470.3,713 L573.2,687.2" fill="none" stroke="#111" stroke-width="1"/>
<path d="M519,700 V766 M470.3,738 L575,712 M470.3,748 L575,722 M470.3,760 L575,734" fill="none" stroke="#111" stroke-width="1"/>
<path d="M452,689.5 l0,-4 l9,-1.6 l0,4 Z" fill="#a3a4a6" stroke="#111" stroke-width="0.9"/>
<path d="M505,682 l0,-4 l9,-1.6 l0,4 Z" fill="#a3a4a6" stroke="#111" stroke-width="0.9"/>
<path d="M530,678.5 l0,-4 l9,-1.6 l0,4 Z" fill="#a3a4a6" stroke="#111" stroke-width="0.9"/>
<rect x="440" y="695" width="6" height="3" fill="#111" transform="rotate(-9 440 695)"/>
<rect x="453.8" y="692.7" width="6" height="3" fill="#111" transform="rotate(-9 453.8 692.7)"/>
<rect x="467.6" y="690.4" width="6" height="3" fill="#111" transform="rotate(-9 467.6 690.4)"/>
<rect x="481.4" y="688.1" width="6" height="3" fill="#111" transform="rotate(-9 481.4 688.1)"/>
<rect x="495.2" y="685.8" width="6" height="3" fill="#111" transform="rotate(-9 495.2 685.8)"/>
<rect x="509" y="683.5" width="6" height="3" fill="#111" transform="rotate(-9 509 683.5)"/>
<rect x="522.8" y="681.2" width="6" height="3" fill="#111" transform="rotate(-9 522.8 681.2)"/>
<rect x="536.6" y="678.9" width="6" height="3" fill="#111" transform="rotate(-9 536.6 678.9)"/>
<rect x="550.4" y="676.6" width="6" height="3" fill="#111" transform="rotate(-9 550.4 676.6)"/>
<path d="M472,713 l9,-2.2 l0,-3.5 l-9,2.2 Z" fill="#6f7072" stroke="#111" stroke-width="1.1"/>
<path d="M484.7,710 l9,-2.2 l0,-3.5 l-9,2.2 Z" fill="#6f7072" stroke="#111" stroke-width="1.1"/>
<path d="M497.4,706.9 l9,-2.2 l0,-3.5 l-9,2.2 Z" fill="#6f7072" stroke="#111" stroke-width="1.1"/>
<path d="M510.1,703.9 l9,-2.2 l0,-3.5 l-9,2.2 Z" fill="#6f7072" stroke="#111" stroke-width="1.1"/>
<path d="M522.8,700.8 l9,-2.2 l0,-3.5 l-9,2.2 Z" fill="#6f7072" stroke="#111" stroke-width="1.1"/>
<path d="M535.5,697.8 l9,-2.2 l0,-3.5 l-9,2.2 Z" fill="#6f7072" stroke="#111" stroke-width="1.1"/>
<path d="M548.2,694.7 l9,-2.2 l0,-3.5 l-9,2.2 Z" fill="#6f7072" stroke="#111" stroke-width="1.1"/>
<path d="M560.9,691.6 l9,-2.2 l0,-3.5 l-9,2.2 Z" fill="#6f7072" stroke="#111" stroke-width="1.1"/>
<path d="M483,727 v16" stroke="#111" stroke-width="4"/>
<path d="M480,733 h6 M480,737 h6" stroke="#111" stroke-width="1"/>
<ellipse cx="480" cy="722" rx="6.4" ry="6.8" fill="#a3a4a6" stroke="#111" stroke-width="1.6"/>
<path d="M474.5,725 l11,-6" stroke="#111" stroke-width="1.2"/>
<path d="M495.5,724 v16" stroke="#111" stroke-width="4"/>
<path d="M492.5,730 h6 M492.5,734 h6" stroke="#111" stroke-width="1"/>
<ellipse cx="492.5" cy="719" rx="6.4" ry="6.8" fill="#a3a4a6" stroke="#111" stroke-width="1.6"/>
<path d="M487,722 l11,-6" stroke="#111" stroke-width="1.2"/>
<path d="M508.1,721 v16" stroke="#111" stroke-width="4"/>
<path d="M505.1,727 h6 M505.1,731 h6" stroke="#111" stroke-width="1"/>
<ellipse cx="505.1" cy="716" rx="6.4" ry="6.8" fill="#a3a4a6" stroke="#111" stroke-width="1.6"/>
<path d="M499.6,719 l11,-6" stroke="#111" stroke-width="1.2"/>
<path d="M520.6,718 v16" stroke="#111" stroke-width="4"/>
<path d="M517.6,724 h6 M517.6,728 h6" stroke="#111" stroke-width="1"/>
<ellipse cx="517.6" cy="713" rx="6.4" ry="6.8" fill="#a3a4a6" stroke="#111" stroke-width="1.6"/>
<path d="M512.1,716 l11,-6" stroke="#111" stroke-width="1.2"/>
<path d="M533.2,715 v16" stroke="#111" stroke-width="4"/>
<path d="M530.2,721 h6 M530.2,725 h6" stroke="#111" stroke-width="1"/>
<ellipse cx="530.2" cy="710" rx="6.4" ry="6.8" fill="#a3a4a6" stroke="#111" stroke-width="1.6"/>
<path d="M524.7,713 l11,-6" stroke="#111" stroke-width="1.2"/>
<path d="M545.7,712 v16" stroke="#111" stroke-width="4"/>
<path d="M542.7,718 h6 M542.7,722 h6" stroke="#111" stroke-width="1"/>
<ellipse cx="542.7" cy="707" rx="6.4" ry="6.8" fill="#a3a4a6" stroke="#111" stroke-width="1.6"/>
<path d="M537.2,710 l11,-6" stroke="#111" stroke-width="1.2"/>
<path d="M558.2,709 v16" stroke="#111" stroke-width="4"/>
<path d="M555.2,715 h6 M555.2,719 h6" stroke="#111" stroke-width="1"/>
<ellipse cx="555.2" cy="704" rx="6.4" ry="6.8" fill="#a3a4a6" stroke="#111" stroke-width="1.6"/>
<path d="M549.7,707 l11,-6" stroke="#111" stroke-width="1.2"/>
<path d="M570.8,706 v16" stroke="#111" stroke-width="4"/>
<path d="M567.8,712 h6 M567.8,716 h6" stroke="#111" stroke-width="1"/>
<ellipse cx="567.8" cy="701" rx="6.4" ry="6.8" fill="#a3a4a6" stroke="#111" stroke-width="1.6"/>
<path d="M562.3,704 l11,-6" stroke="#111" stroke-width="1.2"/>
<path d="M473.5,771.5 v-3 a2.5,2.5 0 0 1 5,0 v3 Z" fill="#8f9093" stroke="#111" stroke-width="1.2"/>
<path d="M486.3,768.4 v-3 a2.5,2.5 0 0 1 5,0 v3 Z" fill="#8f9093" stroke="#111" stroke-width="1.2"/>
<path d="M499.1,765.3 v-3 a2.5,2.5 0 0 1 5,0 v3 Z" fill="#8f9093" stroke="#111" stroke-width="1.2"/>
<path d="M511.9,762.2 v-3 a2.5,2.5 0 0 1 5,0 v3 Z" fill="#8f9093" stroke="#111" stroke-width="1.2"/>
<path d="M524.7,759.1 v-3 a2.5,2.5 0 0 1 5,0 v3 Z" fill="#8f9093" stroke="#111" stroke-width="1.2"/>
<path d="M537.5,756 v-3 a2.5,2.5 0 0 1 5,0 v3 Z" fill="#8f9093" stroke="#111" stroke-width="1.2"/>
<path d="M550.3,752.9 v-3 a2.5,2.5 0 0 1 5,0 v3 Z" fill="#8f9093" stroke="#111" stroke-width="1.2"/>
<path d="M563.1,749.8 v-3 a2.5,2.5 0 0 1 5,0 v3 Z" fill="#8f9093" stroke="#111" stroke-width="1.2"/>
<path d="M481,721 C486,738 505,750 533,758 C553,764 566,768 577,774" fill="none" stroke="#fff" stroke-width="12" stroke-linecap="butt"/>
<path d="M481,721 C486,738 505,750 533,758 C553,764 566,768 577,774" fill="none" stroke="#111" stroke-width="9.5" stroke-linecap="butt"/>
<path d="M481,721 C486,738 505,750 533,758 C553,764 566,768 577,774" fill="none" stroke="#76777a" stroke-width="7" stroke-linecap="butt"/>
<path d="M484,722 C488,738 505,747 530,754" fill="none" stroke="#a8a9ab" stroke-width="1.2"/>
<path d="M476,716 C480,712 486,714 487,720 M487,720 C489,713 494,712 496,718" fill="none" stroke="#111" stroke-width="2"/>
<path d="M490,750 L517,778" fill="none" stroke="#111" stroke-width="6.5" stroke-linecap="round"/>
<path d="M490,750 L517,778" fill="none" stroke="#e2e3e4" stroke-width="3.5" stroke-linecap="round"/>
<path d="M513,774 L555,805" fill="none" stroke="#111" stroke-width="10" stroke-linecap="butt"/>
<path d="M513,774 L555,805" fill="none" stroke="#d5d6d7" stroke-width="7" stroke-linecap="butt"/>
<path d="M514,769 L557,801" fill="none" stroke="#fff" stroke-width="2"/>
<circle cx="394.7" cy="767.6" r="55.3" fill="#fff" stroke="#9c9d9f" stroke-width="3.4"/>
<g fill="none" stroke="#222" stroke-width="1.1">
<path d="M357.5,736 H371 A5.5,5.5 0 0 1 371,747 H357.5"/><ellipse cx="357.5" cy="741.5" rx="4.6" ry="5.5" fill="#fff"/><ellipse cx="357.3" cy="741.5" rx="2" ry="2.4"/>
<path d="M399.7,739 H383 A2.5,2.5 0 0 0 383,744 H399.7"/><path d="M397.5,736 H435.5 M397.5,747 H435.5"/><ellipse cx="397.5" cy="741.5" rx="3.2" ry="5.5" fill="#fff"/><path d="M394.5,739.2 H399.5 M394.5,743.8 H399.5"/>
</g>
<text x="366.5" y="771.3" font-size="18.5" letter-spacing="1.3" fill="#2a2a36" font-family="Liberation Sans">7 mm</text>
<text x="367" y="794" font-size="18.5" letter-spacing="1.6" fill="#2a2a36" font-family="Liberation Sans">(0.28”)</text></svg>
<div class="c h" style="left:126px;width:234px;"><span>AUDIO</span></div>
<div class="c h" style="left:362px;width:234px;"><span>ALARM</span></div>
<div class="c r" style="left:126px;width:57px;"><span style="margin-left:-3px">OUT</span></div>
<div class="c r" style="left:185px;width:57px;"><span style="margin-left:-6px">GND</span></div>
<div class="c r" style="left:244px;width:57px;"><span style="margin-left:-8px">GND</span></div>
<div class="c r" style="left:303px;width:57px;"><span style="margin-left:-8px">IN</span></div>
<div class="c r" style="left:362px;width:57px;"><span style="margin-left:-4px">GND</span></div>
<div class="c r" style="left:421px;width:57px;"><span style="margin-left:-4px">IN</span></div>
<div class="c r" style="left:480px;width:57px;"><span style="margin-left:-6px">OUT</span></div>
<div class="c r" style="left:539px;width:57px;"><span style="margin-left:-6px">OUT</span></div>
</body></html>
